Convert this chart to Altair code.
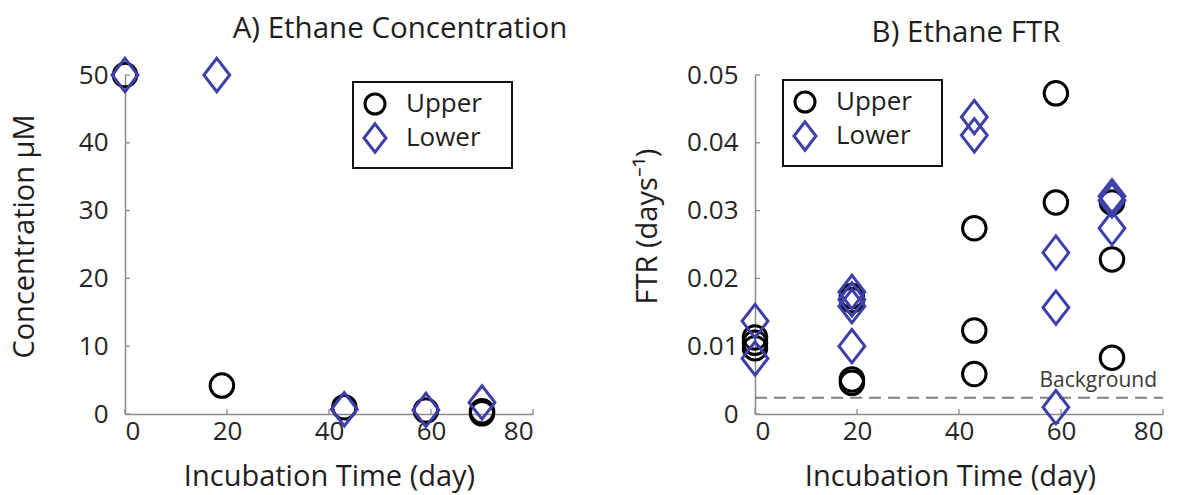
import altair as alt
import pandas as pd

# ---------------- data ----------------
conc_upper_day = [0, 19, 43, 59, 70, 70]
conc_upper_val = [50, 4.2, 1.0, 0.5, 0.1, 0.4]
conc_lower_day = [0, 18, 43, 59, 70]
conc_lower_val = [50, 50, 0.7, 0.6, 1.7]

ftr_upper_day = [0, 0, 0, 19, 19, 19, 19, 43, 43, 43, 59, 59, 70, 70, 70]
ftr_upper_val = [0.0113, 0.0105, 0.0097, 0.0174, 0.0168, 0.0051, 0.0046,
                 0.0274, 0.0123, 0.0059, 0.0473, 0.0312, 0.0312, 0.0228, 0.0083]
ftr_lower_day = [0, 0, 19, 19, 19, 19, 43, 43, 59, 59, 59, 70, 70, 70]
ftr_lower_val = [0.0137, 0.0082, 0.0180, 0.0169, 0.0159, 0.0100, 0.0438, 0.0411,
                 0.0238, 0.0157, 0.0010, 0.0321, 0.0315, 0.0274]

background_ftr = 0.0024
background_label = "Background"

series_names = ["Upper", "Lower"]
x_ticks = [0, 20, 40, 60, 80]
conc_ticks = [0, 10, 20, 30, 40, 50]
ftr_ticks = [0, 0.01, 0.02, 0.03, 0.04, 0.05]

# ---------------- style ----------------
FONT = "Open Sans"
BLUE = "#3F3FAA"
AXIS = "#8a8a8a"
TEXT = "#1e1e1e"
DIAMOND = "M0,-1.42L1.1,0L0,1.42L-1.1,0Z"
W, H = 408, 339


def make_df(ud, uv, ld, lv):
    return pd.DataFrame({
        "day": ud + ld,
        "value": uv + lv,
        "series": [series_names[0]] * len(ud) + [series_names[1]] * len(ld),
    })


conc_df = make_df(conc_upper_day, conc_upper_val, conc_lower_day, conc_lower_val)
ftr_df = make_df(ftr_upper_day, ftr_upper_val, ftr_lower_day, ftr_lower_val)


def legend(lx, ly):
    return alt.Legend(
        orient="none", legendX=lx, legendY=ly, title=None,
        fillColor="white", strokeColor="#111111", padding=9,
        labelFont=FONT, labelFontSize=26, labelColor=TEXT,
        symbolSize=400, symbolStrokeWidth=3, rowPadding=-3, labelOffset=18,
        labelExpr="datum.label + '\u00a0\u00a0\u00a0\u200b'",
    )


def panel(df, ydomain, yticks, ytitle, ylabel_expr, ytitle_x, ytitle_y,
          lx, ly, title, title_dx, title_offset, xtitle_x, extra=None):
    xscale = alt.Scale(domain=[0, 80], nice=False, zero=False)
    yscale = alt.Scale(domain=ydomain, nice=False, zero=False)
    xaxis = alt.Axis(values=x_ticks, title="Incubation Time (day)", ticks=False, tickSize=0,
                     labelPadding=25, labelBaseline="alphabetic", format="d",
                     titleY=71, titleBaseline="alphabetic", titleX=xtitle_x)
    yaxis_kwargs = dict(values=yticks, title=ytitle, ticks=False, tickSize=0,
                        labelPadding=17, titleX=ytitle_x, titleY=ytitle_y,
                        titleBaseline="alphabetic", titleAlign="center", titleAngle=-90)
    if ylabel_expr:
        yaxis_kwargs["labelExpr"] = ylabel_expr
    yaxis = alt.Axis(**yaxis_kwargs)

    pts = alt.Chart(df).mark_point(filled=False, strokeWidth=3, size=552, opacity=1).encode(
        x=alt.X("day:Q", scale=xscale, axis=xaxis),
        y=alt.Y("value:Q", scale=yscale, axis=yaxis),
        color=alt.Color("series:N", scale=alt.Scale(domain=series_names, range=["black", BLUE]),
                        legend=legend(lx, ly)),
        shape=alt.Shape("series:N", scale=alt.Scale(domain=series_names, range=["circle", DIAMOND]),
                        legend=legend(lx, ly)),
    )
    xt = alt.Chart(pd.DataFrame({"t": x_ticks})).mark_rule(color=AXIS, strokeWidth=1.3).encode(
        x=alt.X("t:Q", scale=xscale, axis=xaxis), y=alt.value(H), y2=alt.value(H - 5))
    yt = alt.Chart(pd.DataFrame({"t": yticks})).mark_rule(color=AXIS, strokeWidth=1.3).encode(
        y=alt.Y("t:Q", scale=yscale, axis=yaxis), x=alt.value(0), x2=alt.value(5))
    layers = [xt, yt]
    if extra:
        layers += extra(xscale, yscale, xaxis, yaxis)
    layers.append(pts)
    return alt.layer(*layers).properties(
        width=W, height=H,
        title=alt.TitleParams(title, dx=title_dx, offset=title_offset, baseline="alphabetic",
                              font=FONT, fontSize=29.5, fontWeight="normal", color=TEXT,
                              anchor="middle", frame="group"),
    )


def background_layers(xscale, yscale, xaxis, yaxis):
    bdf = pd.DataFrame({"x1": [0], "x2": [80], "y": [background_ftr], "label": [background_label]})
    line = alt.Chart(bdf).mark_rule(strokeDash=[12, 7], color="#808080", strokeWidth=2).encode(
        x=alt.X("x1:Q", scale=xscale, axis=xaxis), x2="x2:Q",
        y=alt.Y("y:Q", scale=yscale, axis=yaxis))
    txt = alt.Chart(bdf).mark_text(align="right", baseline="alphabetic", dx=-6, dy=-11,
                                   font=FONT, fontSize=21, color="#3a3a3a").encode(
        x=alt.X("x2:Q", scale=xscale, axis=xaxis),
        y=alt.Y("y:Q", scale=yscale, axis=yaxis), text="label:N")
    return [line, txt]


left = panel(conc_df, [0, 50], conc_ticks, "Concentration \u03bcM", None, -92, 161,
             228, 7, "A) Ethane Concentration", 71, -15, W / 2)
right = panel(ftr_df, [0, 0.05], ftr_ticks, "FTR (days\u207b\u00b9)",
              "datum.value == 0 ? '0' : format(datum.value, '.2f')", -99, 151,
              28, 5, "B) Ethane FTR", 7, -9, 195, extra=background_layers)

chart = alt.hconcat(left, right, spacing=222, bounds="flush").resolve_scale(
    color="independent", shape="independent", x="independent", y="independent"
).properties(
    padding={"left": 10, "top": 13, "right": 5, "bottom": 2}
).configure_view(stroke=None).configure_axis(
    domainColor=AXIS, domainWidth=1.5, grid=False,
    labelFont=FONT, labelFontSize=26, labelColor="#262626",
    titleFont=FONT, titleFontSize=29, titleFontWeight="normal", titleColor=TEXT,
).configure_legend(strokeWidth=2)

chart.save("out.html", embed_options={"renderer": "svg", "actions": False})
